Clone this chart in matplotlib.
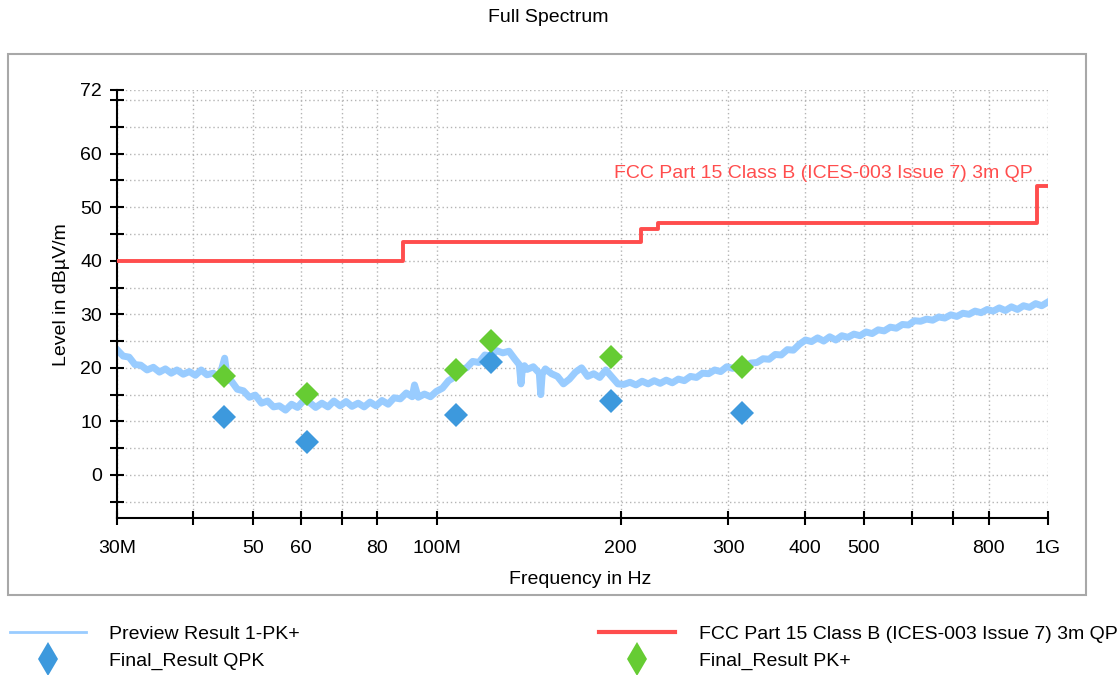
import matplotlib
matplotlib.use("Agg")
import matplotlib.pyplot as plt
from matplotlib.lines import Line2D
from matplotlib.patches import Rectangle
from matplotlib.ticker import FixedLocator, FixedFormatter, NullFormatter

plt.rcParams['font.family'] = ['Liberation Sans', 'DejaVu Sans']

# preview scan (MHz, dBuV/m)
scan_freq = [30.0, 30.7, 31.4, 32.1, 32.8, 33.6, 34.4, 35.2, 36.0, 36.8,
             37.6, 38.5, 39.4, 40.3, 41.2, 42.1, 43.1, 44.1, 45.0, 45.5,
             46.1, 47.2, 48.3, 49.4, 50.5, 51.7, 52.9, 54.1, 55.3, 56.6,
             57.9, 59.2, 60.6, 62.0, 63.4, 64.9, 66.4, 67.9, 69.5, 71.1,
             72.7, 74.4, 76.1, 77.8, 79.6, 81.4, 83.3, 85.2, 87.2, 89.2,
             91.2, 92.0, 93.3, 95.5, 97.7, 99.9, 102.2, 104.6, 107.0, 109.4,
             111.9, 114.5, 117.2, 119.9, 122.6, 125.4, 128.3, 131.3, 134.3, 136.5,
             137.4, 138.1, 139.2, 140.6, 143.9, 147.2, 148.0, 148.8, 150.6, 154.1,
             157.6, 161.2, 164.9, 168.7, 172.6, 176.6, 180.7, 184.8, 189.1, 193.4,
             197.9, 202.4, 207.1, 211.9, 216.8, 221.8, 226.9, 232.1, 237.4, 242.9,
             248.5, 254.2, 260.1, 266.1, 272.2, 278.5, 284.9, 291.5, 298.2, 305.1,
             312.1, 319.3, 326.7, 334.2, 341.9, 349.8, 357.9, 366.1, 374.6, 383.2,
             392.1, 401.1, 410.4, 419.9, 429.6, 439.5, 449.6, 460.0, 470.6, 481.5,
             492.6, 503.9, 515.6, 527.5, 539.6, 552.1, 564.8, 577.8, 591.2, 604.8,
             618.8, 633.0, 647.6, 662.6, 677.9, 693.5, 709.5, 725.9, 742.6, 759.8,
             777.3, 795.3, 813.6, 832.4, 851.6, 871.3, 891.4, 911.9, 933.0, 954.5,
             976.5, 1000.0]
scan_level = [23.4, 22.2, 22.0, 20.6, 20.5, 19.6, 20.1, 19.2, 19.8, 19.0,
              19.6, 18.8, 19.3, 18.6, 19.6, 18.7, 19.0, 18.2, 21.8, 17.8,
              17.6, 16.0, 15.7, 14.5, 14.9, 13.4, 13.8, 12.7, 12.9, 12.1,
              13.2, 12.6, 13.9, 13.5, 12.6, 13.4, 12.7, 13.8, 12.9, 13.7,
              12.8, 13.4, 12.7, 13.6, 12.9, 13.9, 13.2, 14.4, 14.2, 15.3,
              14.6, 16.8, 14.5, 15.1, 14.6, 15.6, 16.2, 17.6, 18.3, 19.7,
              20.0, 21.2, 21.0, 22.4, 22.2, 23.2, 22.8, 23.1, 21.6, 20.6,
              17.0, 19.8, 20.4, 19.7, 20.2, 19.0, 15.0, 18.8, 19.8, 18.9,
              18.4, 17.0, 17.9, 19.2, 20.0, 18.4, 18.9, 18.2, 19.6, 18.3,
              17.0, 16.9, 17.3, 16.8, 17.5, 17.0, 17.6, 17.1, 17.7, 17.2,
              17.9, 17.6, 18.4, 18.2, 19.0, 18.9, 19.6, 19.3, 20.2, 19.9,
              20.5, 20.3, 20.9, 21.0, 21.7, 21.6, 22.5, 22.4, 23.4, 23.3,
              24.4, 25.2, 24.9, 25.6, 25.0, 25.8, 25.2, 26.0, 25.7, 26.3,
              26.0, 26.7, 26.4, 27.1, 26.9, 27.6, 27.4, 28.1, 28.0, 28.8,
              28.7, 29.1, 28.9, 29.5, 29.3, 29.9, 29.6, 30.2, 30.0, 30.6,
              30.3, 30.9, 30.6, 31.2, 30.7, 31.4, 30.9, 31.6, 31.3, 32.0,
              31.6, 32.3]

# limit line FCC Part 15 Class B 3m
limit_freq = [30, 88, 88, 216, 216, 230, 230, 960, 960, 1000]
limit_level = [40, 40, 43.5, 43.5, 46, 46, 47, 47, 54, 54]

# final measurements
final_freq = [44.9, 61.4, 107.5, 122.7, 192.9, 316.3]
final_qpk = [10.9, 6.1, 11.1, 21.0, 13.8, 11.5]
final_pk = [18.4, 15.1, 19.6, 25.1, 22.1, 20.2]

x_major = [30, 50, 60, 80, 100, 200, 300, 400, 500, 800, 1000]
x_labels = ['30M', '50', '60', '80', '100M', '200', '300', '400', '500', '800', '1G']
x_minor = [40, 70, 600, 700]
y_major = [0, 10, 20, 30, 40, 50, 60, 72]
y_minor = [-5, 5, 15, 25, 35, 45, 55, 65, 70]

limit_name = 'FCC Part 15 Class B (ICES-003 Issue 7) 3m QP'

c_scan = '#99ccff'
c_limit = '#ff4d4d'
c_qpk = '#3d99dd'
c_pk = '#66cc33'

W, H = 1119, 675
fig = plt.figure(figsize=(W / 100, H / 100), dpi=100)
ax = fig.add_axes([117 / W, 1 - 517.7 / H, (1048 - 117) / W, (517.7 - 89.5) / H])

ax.plot(scan_freq, scan_level, color=c_scan, lw=5, solid_joinstyle='round', zorder=2)
ax.plot(limit_freq, limit_level, color=c_limit, lw=2.8, zorder=3)
ax.plot(final_freq, final_qpk, 'D', color=c_qpk, ms=12.5, mew=0, zorder=4)
ax.plot(final_freq, final_pk, 'D', color=c_pk, ms=12.5, mew=0, zorder=4)
ax.text(945, 56.3, limit_name, color=c_limit, fontsize=14, ha='right', va='center')

ax.set_xscale('log')
ax.set_xlim(30, 1000)
ax.set_ylim(-8, 72)
ax.xaxis.set_major_locator(FixedLocator(x_major))
ax.xaxis.set_major_formatter(FixedFormatter(x_labels))
ax.xaxis.set_minor_locator(FixedLocator(x_minor))
ax.xaxis.set_minor_formatter(NullFormatter())
ax.yaxis.set_major_locator(FixedLocator(y_major))
ax.yaxis.set_minor_locator(FixedLocator(y_minor))

for side in ['top', 'right']:
    ax.spines[side].set_visible(False)
for side in ['left', 'bottom']:
    ax.spines[side].set_linewidth(1.5)
ax.tick_params(which='both', direction='inout', length=9.5, width=1.5, labelsize=14)
ax.tick_params(axis='x', which='both', pad=11)
ax.tick_params(axis='y', which='both', pad=6)
ax.grid(True, which='both', color='#b4b4b4', lw=1, linestyle=(0, (1, 2)))
ax.set_axisbelow(True)

fig.text(548 / W, 1 - 18 / H, 'Full Spectrum', fontsize=14, ha='center', va='center')
fig.text(580 / W, 1 - 580 / H, 'Frequency in Hz', fontsize=14, ha='center', va='center')
fig.text(62 / W, 1 - 295 / H, 'Level in dBµV/m', fontsize=14, ha='center', va='center', rotation=90)

fig.patches.append(Rectangle((8 / W, 1 - 595 / H), (1086 - 8) / W, (595 - 54) / H,
                             transform=fig.transFigure, fill=False, edgecolor='#a8a8a8', lw=1.5))

handles = [Line2D([], [], color=c_scan, lw=2),
           Line2D([], [], ls='none', marker='d', color=c_qpk, ms=17, mew=0),
           Line2D([], [], color=c_limit, lw=3),
           Line2D([], [], ls='none', marker='d', color=c_pk, ms=17, mew=0)]
labels = ['Preview Result 1-PK+', 'Final_Result QPK', limit_name, 'Final_Result PK+']
fig.legend(handles, labels, loc='upper left', bbox_to_anchor=(10 / W, 1 - 625 / H),
           ncol=2, frameon=False, fontsize=14, handlelength=3.9, handletextpad=1.2,
           columnspacing=15.4, labelspacing=0.5, borderpad=0, borderaxespad=0)

fig.savefig('out.png', dpi=100)
